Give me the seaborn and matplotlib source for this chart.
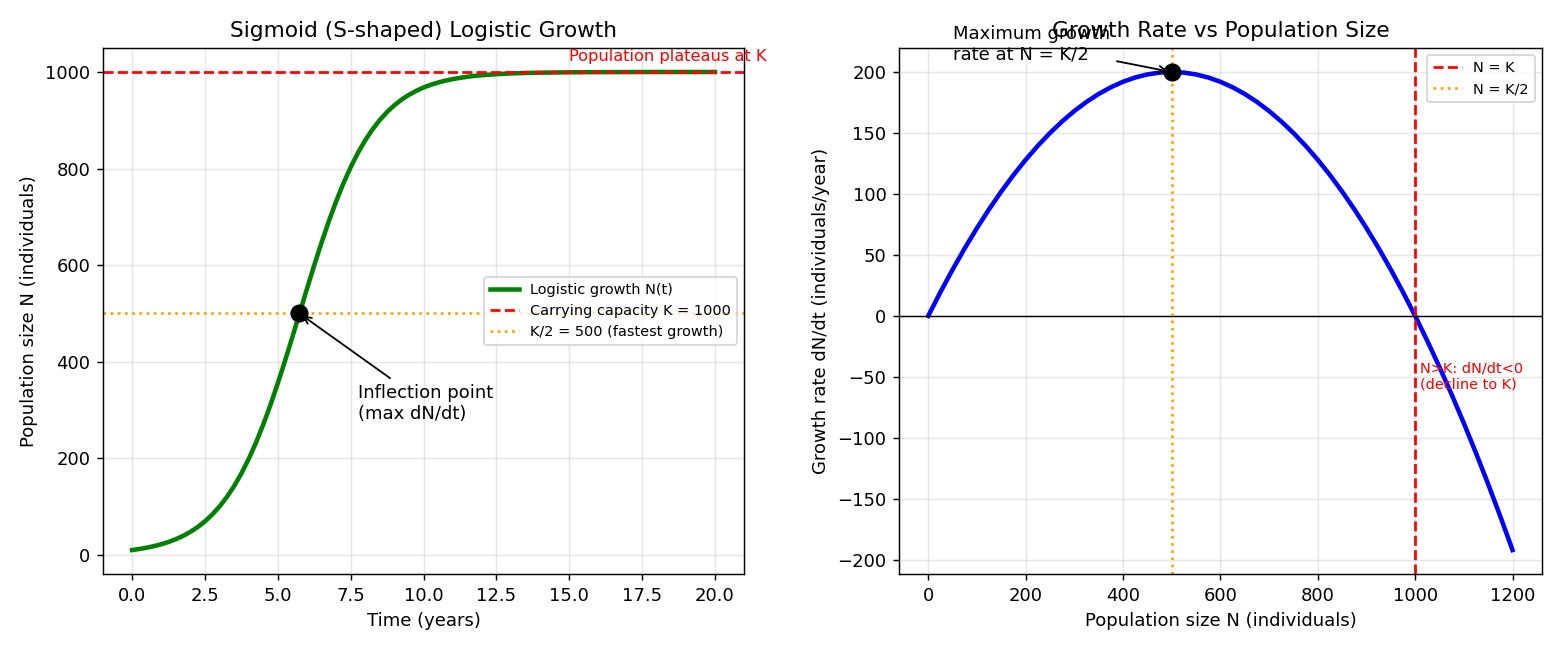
import matplotlib
matplotlib.use("Agg")
import matplotlib.pyplot as plt
import seaborn as sns
import pandas as pd

# ---- data ----
time_years = [0.0, 0.25, 0.5, 0.75, 1.0, 1.25, 1.5, 1.75, 2.0, 2.25, 2.5, 2.75, 3.0,
              3.25, 3.5, 3.75, 4.0, 4.25, 4.5, 4.75, 5.0, 5.25, 5.5, 5.75, 6.0,
              6.25, 6.5, 6.75, 7.0, 7.25, 7.5, 7.75, 8.0, 8.25, 8.5, 8.75, 9.0,
              9.25, 9.5, 9.75, 10.0, 10.25, 10.5, 10.75, 11.0, 11.25, 11.5, 11.75,
              12.0, 12.5, 13.0, 13.5, 14.0, 15.0, 16.0, 17.0, 18.0, 19.0, 20.0]
population = [10, 12.2, 14.9, 18.1, 22.0, 26.7, 32.5, 39.4, 47.7, 57.6, 69.5, 83.5,
              100.2, 119.7, 142.4, 168.7, 198.6, 232.3, 269.9, 311.1, 355.5, 402.5,
              451.3, 501.2, 551.0, 599.9, 646.7, 691.0, 732.0, 769.4, 802.9, 832.7,
              858.7, 881.3, 900.6, 917.2, 931.2, 942.9, 952.8, 961.0, 967.9, 973.5,
              978.2, 982.1, 985.3, 987.9, 990.1, 991.9, 993.3, 995.5, 997.0, 998.0,
              998.6, 999.4, 999.7, 999.9, 1000, 1000, 1000]

pop_size = [0, 25, 50, 75, 100, 125, 150, 175, 200, 225, 250, 275, 300, 325, 350, 375,
            400, 425, 450, 475, 500, 525, 550, 575, 600, 625, 650, 675, 700, 725, 750,
            775, 800, 825, 850, 875, 900, 925, 950, 975, 1000, 1025, 1050, 1075, 1100,
            1125, 1150, 1175, 1200]
growth_rate = [0, 19.5, 38, 55.5, 72, 87.5, 102, 115.5, 128, 139.5, 150, 159.5, 168,
               175.5, 182, 187.5, 192, 195.5, 198, 199.5, 200, 199.5, 198, 195.5, 192,
               187.5, 182, 175.5, 168, 159.5, 150, 139.5, 128, 115.5, 102, 87.5, 72,
               55.5, 38, 19.5, 0, -20.5, -42, -64.5, -88, -112.5, -138, -164.5, -192]

carrying_capacity = 1000
half_k = 500
inflection_time = 5.74
max_rate = 200

df_growth = pd.DataFrame({"t": time_years, "N": population})
df_rate = pd.DataFrame({"N": pop_size, "rate": growth_rate})

fig = plt.figure(figsize=(12, 5), dpi=130)
ax1 = fig.add_axes([0.066, 0.117, 0.411, 0.809])
ax2 = fig.add_axes([0.5763, 0.117, 0.412, 0.809])

# ---- left panel ----
sns.lineplot(data=df_growth, x="t", y="N", ax=ax1, color="green", linewidth=2.5,
             label="Logistic growth N(t)")
ax1.axhline(carrying_capacity, color="red", linestyle="--", linewidth=1.5,
            label="Carrying capacity K = 1000")
ax1.axhline(half_k, color="orange", linestyle=":", linewidth=1.5,
            label="K/2 = 500 (fastest growth)")
ax1.plot([inflection_time], [half_k], "ko", markersize=9, zorder=5)
ax1.annotate("Inflection point\n(max dN/dt)", xy=(inflection_time, half_k),
             xytext=(inflection_time + 2, 282), fontsize=10,
             arrowprops=dict(arrowstyle="->", color="black"))
ax1.text(15, 1022, "Population plateaus at K", color="red", fontsize=9)
ax1.set_title("Sigmoid (S-shaped) Logistic Growth", fontsize=12)
ax1.set_xlabel("Time (years)", fontsize=10)
ax1.set_ylabel("Population size N (individuals)", fontsize=10)
ax1.grid(True, alpha=0.3)
ax1.legend(loc="center right", fontsize=8)

# ---- right panel ----
sns.lineplot(data=df_rate, x="N", y="rate", ax=ax2, color="blue", linewidth=2.5)
ax2.axhline(0, color="black", linewidth=0.8)
ax2.axvline(carrying_capacity, color="red", linestyle="--", linewidth=1.5, label="N = K")
ax2.axvline(half_k, color="orange", linestyle=":", linewidth=1.5, label="N = K/2")
ax2.plot([half_k], [max_rate], "ko", markersize=9, zorder=5)
ax2.annotate("Maximum growth\nrate at N = K/2", xy=(half_k, max_rate),
             xytext=(50, 210), fontsize=10,
             arrowprops=dict(arrowstyle="->", color="black"))
ax2.text(1010, -50, "N>K: dN/dt<0\n(decline to K)", color="red", fontsize=8, va="center")
ax2.set_title("Growth Rate vs Population Size", fontsize=12)
ax2.set_xlabel("Population size N (individuals)", fontsize=10)
ax2.set_ylabel("Growth rate dN/dt (individuals/year)", fontsize=10)
ax2.grid(True, alpha=0.3)
ax2.legend(loc="upper right", fontsize=8)

fig.savefig("out.png", dpi=130)
